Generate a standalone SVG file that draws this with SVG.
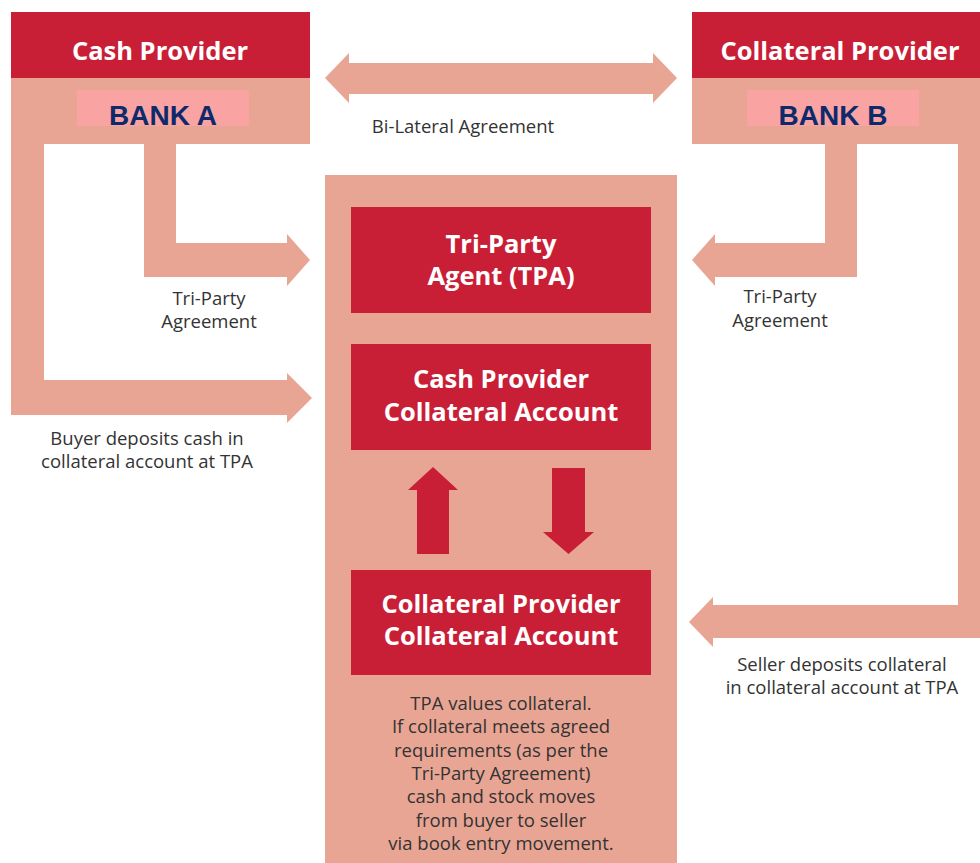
<svg xmlns="http://www.w3.org/2000/svg" width="980" height="863" viewBox="0 0 980 863">
  <style>
    .red { fill: #C91F36; }
    .salmon { fill: #E9A594; }
    .bankbox { fill: #F9A3A3; }
    .head { font-family: "Open Sans", "Noto Sans", sans-serif; font-weight: 700; font-size: 25.5px; fill: #FFFFFF; text-anchor: middle; }
    .bank { font-family: "Liberation Sans", Arial, sans-serif; font-weight: 700; font-size: 28px; fill: #0D2A6B; text-anchor: middle; }
    .note { font-family: "Open Sans", "Noto Sans", sans-serif; font-size: 18.5px; fill: #333333; text-anchor: middle; }
  </style>

  <!-- Central Tri-Party Agent column -->
  <g id="tpa-column">
    <rect class="salmon" x="325" y="175" width="352" height="688"/>
  </g>

  <!-- Connectors: agreement and deposit arrows -->
  <g id="connectors">
    <!-- bi-lateral agreement -->
    <polygon class="salmon" points="325,78 349,53 349,63 653,63 653,53 677,78 653,103 653,94 349,94 349,103"/>
    <!-- cash provider: tri-party agreement -->
    <polygon class="salmon" points="144,144 176,144 176,243 287,243 287,234 310,260 287,286 287,277 144,277"/>
    <!-- cash provider: cash deposit -->
    <polygon class="salmon" points="11,144 44,144 44,380 287,380 287,373 312,398 287,423 287,415 11,415"/>
    <!-- collateral provider: tri-party agreement -->
    <polygon class="salmon" points="825,144 857,144 857,277 715,277 715,286 692,260 715,234 715,243 825,243"/>
    <!-- collateral provider: collateral deposit -->
    <polygon class="salmon" points="958,144 980,144 980,638 713,638 713,647 689,622 713,597 713,605 958,605"/>
    <!-- movement between the accounts -->
    <polygon class="red" points="417,554 417,490 408,490 433,467 458,490 449,490 449,554"/>
    <polygon class="red" points="552,468 585,468 585,532 594,532 568.5,554 543,532 552,532"/>

    <text class="note" x="463" y="133">Bi-Lateral Agreement</text>
    <text class="note" x="209" y="305">Tri-Party</text>
    <text class="note" x="209" y="328">Agreement</text>
    <text class="note" x="147" y="445">Buyer deposits cash in</text>
    <text class="note" x="147" y="468">collateral account at TPA</text>
    <text class="note" x="780" y="303">Tri-Party</text>
    <text class="note" x="780" y="327">Agreement</text>
    <text class="note" x="842" y="671">Seller deposits collateral</text>
    <text class="note" x="842" y="694">in collateral account at TPA</text>
  </g>

  <!-- Cash provider -->
  <g id="cash-provider">
    <rect class="red" x="11" y="12" width="299" height="66"/>
    <rect class="salmon" x="11" y="78" width="299" height="66"/>
    <rect class="bankbox" x="77" y="90" width="172" height="36"/>
    <text class="head" x="160" y="60">Cash Provider</text>
    <text class="bank" x="163" y="125">BANK A</text>
  </g>

  <!-- Collateral provider -->
  <g id="collateral-provider">
    <rect class="red" x="692" y="12" width="288" height="66"/>
    <rect class="salmon" x="692" y="78" width="288" height="66"/>
    <rect class="bankbox" x="747" y="90" width="172" height="36"/>
    <text class="head" x="840" y="60">Collateral Provider</text>
    <text class="bank" x="833" y="125">BANK B</text>
  </g>

  <!-- Tri-Party Agent -->
  <g id="tri-party-agent">
    <rect class="red" x="351" y="207" width="300" height="106"/>
    <text class="head" x="501" y="253">Tri-Party</text>
    <text class="head" x="501" y="285">Agent (TPA)</text>
  </g>

  <!-- Cash provider collateral account -->
  <g id="cash-provider-account">
    <rect class="red" x="351" y="344" width="300" height="106"/>
    <text class="head" x="501" y="388">Cash Provider</text>
    <text class="head" x="501" y="421">Collateral Account</text>
  </g>

  <!-- Collateral provider collateral account -->
  <g id="collateral-provider-account">
    <rect class="red" x="351" y="570" width="300" height="105"/>
    <text class="head" x="501" y="613">Collateral Provider</text>
    <text class="head" x="501" y="645">Collateral Account</text>
  </g>

  <!-- Valuation note -->
  <g id="valuation-note">
    <text class="note" x="501" y="710">TPA values collateral.</text>
    <text class="note" x="501" y="733">If collateral meets agreed</text>
    <text class="note" x="501" y="757">requirements (as per the</text>
    <text class="note" x="501" y="780">Tri-Party Agreement)</text>
    <text class="note" x="501" y="803">cash and stock moves</text>
    <text class="note" x="501" y="827">from buyer to seller</text>
    <text class="note" x="501" y="850">via book entry movement.</text>
  </g>
</svg>
